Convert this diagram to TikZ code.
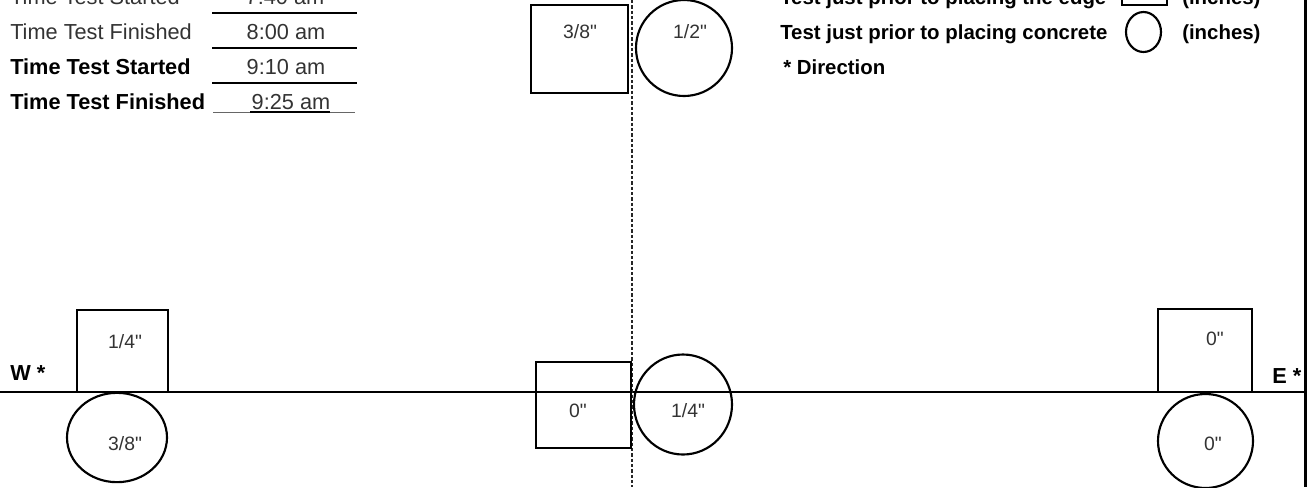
\documentclass[tikz,border=0pt]{standalone}
\usepackage{fontspec}
\setmainfont{Liberation Sans}[Ligatures=TeXOff]
\usetikzlibrary{positioning,shapes.geometric}
\newcommand{\inch}{\symbol{34}}

\tikzset{
  txt/.style={anchor=base west,inner sep=0pt,text=black!80,font=\fontsize{16.3}{18}\selectfont},
  bold/.style={anchor=base west,inner sep=0pt,font=\bfseries\fontsize{16.3}{18}\selectfont},
  keytxt/.style={anchor=base west,inner sep=0pt,font=\bfseries\fontsize{15.3}{18}\selectfont},
  val/.style={anchor=base,inner sep=0pt,text=black!80,font=\fontsize{16.3}{18}\selectfont},
  depth/.style={anchor=base,inner sep=0pt,text=black!80,font=\fontsize{14.5}{16}\selectfont},
  sqbox/.style={draw,line width=1.6pt,inner sep=0pt},
  ring/.style={draw,ellipse,line width=1.6pt,inner sep=0pt},
}

\begin{document}
\begin{tikzpicture}[x=0.75pt,y=-0.75pt]
\useasboundingbox (0,0) rectangle (1310,487);
\clip (0,0) rectangle (1310,487);
% axes
\coordinate (wend) at (0,392);
\coordinate (eend) at (1305,392);
\coordinate (ctop) at (632,0);
\coordinate (cbot) at (632,487);
\draw[line width=0.8pt] (wend) -- (eend);
\draw[line width=0.8pt,black!85,dash pattern=on 2.6pt off 1.4pt] (ctop) -- (cbot);
\draw[line width=2.3pt] (1305.5,0) -- (1305.5,487);
% times
\node[txt]  (tsa) at (10,4)   {Time Test Started};
\node[txt]  (tfa) at (10,39)  {Time Test Finished};
\node[bold] (tsb) at (10,74)  {Time Test Started};
\node[bold] (tfb) at (10,109) {Time Test Finished};
\node[val]  (vsa) at (285,4)   {7:40 am};
\node[val]  (vfa) at (286,39)  {8:00 am};
\node[val]  (vsb) at (286,74)  {9:10 am};
\node[val]  (vfb) at (291,109) {9:25 am};
\draw[line width=0.9pt] (212,13) -- (357,13);
\draw[line width=1.8pt] (212,48) -- (357,48);
\draw[line width=0.9pt] (212,83) -- (357,83);
\draw[line width=0.6pt,black!60] (213,112) -- (355,112);
\draw[line width=1.2pt] (250,112) -- (330,112);
% legend
\node[keytxt] (leg1) at (780,4)  {Test just prior to placing the edge};
\node[sqbox,minimum width=33.75pt,minimum height=25.5pt] (legsq) at (1144.5,-12) {};
\node[keytxt] (in1) at (1182,4)  {(inches)};
\node[keytxt] (leg2) at (780,39) {Test just prior to placing concrete};
\node[ring,minimum width=26.25pt,minimum height=30pt] (legci) at (1143.5,32) {};
\node[keytxt] (in2) at (1182,39) {(inches)};
\node[keytxt] (dir) at (783,74)  {* Direction};
\node[bold] (west) at (10,380)  {W *};
\node[bold] (east) at (1272,383) {E *};
% centre line, top
\node[sqbox,minimum width=72.75pt,minimum height=66pt] (sqct) at (579.5,49) {};
\node[ring,minimum size=72pt] (cict) at (684,48) {};
\node[depth] (dsqct) at (580,38) {3/8\inch};
\node[depth] (dcict) at (690,38) {1/2\inch};
% west end
\node[sqbox,minimum width=68.25pt,minimum height=61.5pt] (sqw) at (122.5,351) {};
\node[ring,minimum width=75pt,minimum height=67pt] (ciw) at (117,437.5) {};
\node[depth] (dsqw) at (125,348) {1/4\inch};
\node[depth] (dciw) at (125,450) {3/8\inch};
% centre line, bottom
\node[sqbox,minimum width=71.25pt,minimum height=64.5pt] (sqcb) at (583.5,405) {};
\node[ring,minimum width=73.5pt,minimum height=75pt] (cicb) at (683,404.5) {};
\node[depth] (dsqcb) at (578,417) {0\inch};
\node[depth] (dcicb) at (688,417) {1/4\inch};
% east end
\node[sqbox,minimum width=70.5pt,minimum height=62.25pt] (sqe) at (1205,350.5) {};
\node[ring,minimum width=71.25pt,minimum height=70.5pt] (cie) at (1205.5,441) {};
\node[depth] (dsqe) at (1215,345) {0\inch};
\node[depth] (dcie) at (1213,450) {0\inch};
\end{tikzpicture}
\end{document}
